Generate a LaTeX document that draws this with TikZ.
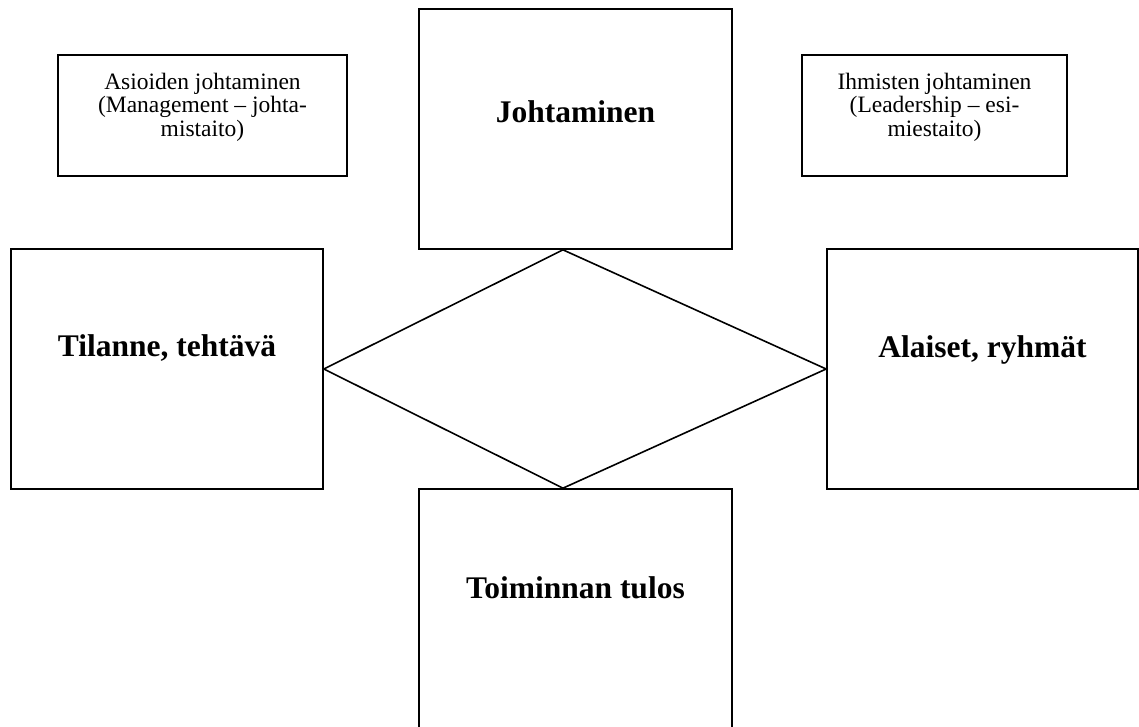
\documentclass[tikz,border=0pt]{standalone}
\usepackage{fontspec}
\setmainfont{Liberation Serif}
\tikzset{
  box/.style={draw=black, line width=1.7pt, rectangle, inner sep=0pt},
  small/.style={align=center, inner sep=0pt, font=\fontsize{23.5}{23.5}\selectfont},
  big/.style={inner sep=0pt, font=\fontsize{31.5}{36}\selectfont\bfseries},
}
\begin{document}
\begin{tikzpicture}[x=1pt,y=-1pt]
\useasboundingbox (0,0) rectangle (1139,727);
\clip (0,0) rectangle (1139,727);
\fill[white] (0,0) rectangle (1139,727);
% boxes
\node[box, minimum width=289pt, minimum height=121pt] (as) at (202.5,115.5) {};
\node[box, minimum width=265pt, minimum height=121pt] (ih) at (934.5,115.5) {};
\node[box, minimum width=313pt, minimum height=240pt] (jo) at (575.5,129) {};
\node[box, minimum width=312pt, minimum height=240pt] (ti) at (167,369) {};
\node[box, minimum width=311pt, minimum height=240pt] (al) at (982.5,369) {};
\node[box, minimum width=313pt, minimum height=260pt] (to) at (575.5,619) {};
% diamond
\coordinate (dt) at ([xshift=-12.5pt]jo.south);
\coordinate (db) at ([xshift=-12.5pt]to.north);
\draw[line width=1.6pt, line join=miter] (dt) -- (ti.east) -- (db) -- (al.west) -- cycle;
% texts
\node[small] (astext) at (202.5,107) {Asioiden johtaminen\\(Management -- johta-\\mistaito)};
\node[small] (ihtext) at (934.5,107) {Ihmisten johtaminen\\(Leadership -- esi-\\miestaito)};
\node[big] (jotext) at (575.5,112) {Johtaminen};
\node[big] (titext) at (167,348) {Tilanne, tehtävä};
\node[big] (altext) at (982.5,350) {Alaiset, ryhmät};
\node[big] (totext) at (575.5,588) {Toiminnan tulos};
\end{tikzpicture}
\end{document}
